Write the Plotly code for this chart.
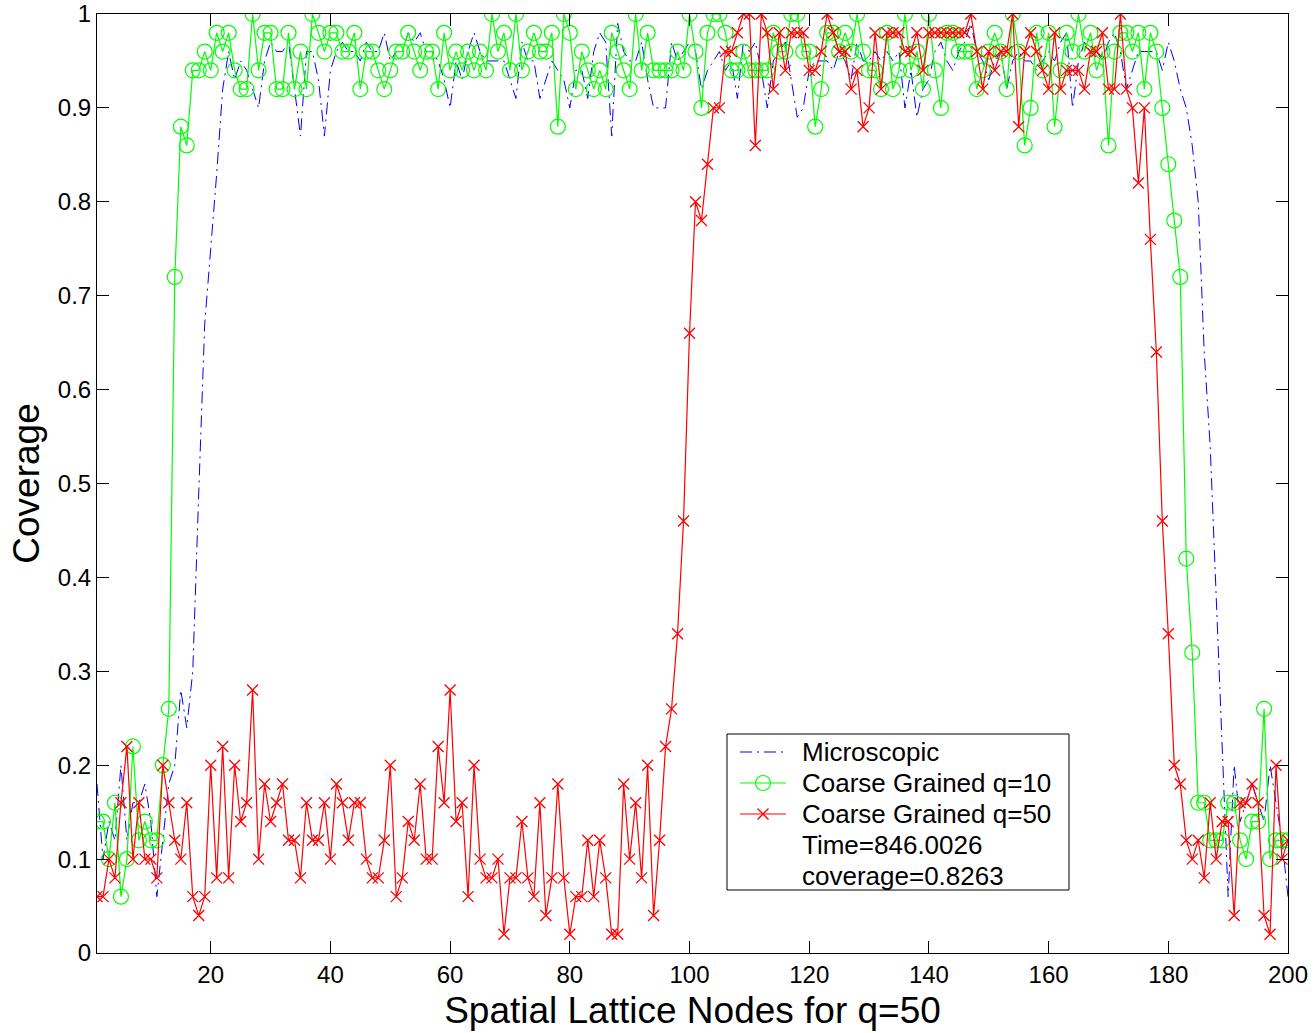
import plotly.graph_objects as go

nodes = list(range(1, 201))

micro = [
    0.18, 0.10, 0.14, 0.12, 0.20, 0.12, 0.16, 0.16, 0.18, 0.14,
    0.06, 0.12, 0.18, 0.20, 0.28, 0.24, 0.30, 0.49, 0.67, 0.75,
    0.83, 0.92, 0.96, 0.93, 0.95, 0.94, 0.92, 0.90, 0.95, 0.97,
    0.96, 0.96, 0.97, 0.92, 0.87, 0.96, 0.96, 0.93, 0.87, 0.94,
    0.96, 0.97, 0.96, 0.96, 0.95, 0.97, 0.96, 0.96, 0.98, 0.95,
    0.96, 0.96, 0.98, 0.97, 0.98, 0.96, 0.96, 0.95, 0.93, 0.90,
    0.95, 0.93, 0.96, 0.98, 0.96, 0.95, 0.95, 0.95, 0.95, 0.93,
    0.91, 0.97, 0.95, 0.95, 0.91, 0.93, 0.95, 0.94, 0.93, 0.90,
    0.94, 0.94, 0.91, 0.96, 0.98, 0.97, 0.87, 0.99, 0.96, 0.95,
    0.95, 0.97, 0.93, 0.90, 0.90, 0.90, 0.97, 0.95, 0.96, 0.97,
    0.96, 0.92, 0.94, 0.95, 0.96, 0.94, 0.95, 0.91, 0.97, 0.96,
    0.97, 0.94, 0.90, 0.95, 0.96, 0.97, 0.93, 0.89, 0.90, 0.94,
    0.95, 0.95, 0.95, 0.94, 0.96, 0.95, 0.93, 0.97, 0.95, 0.95,
    0.96, 0.95, 0.96, 0.95, 0.96, 0.90, 0.94, 0.89, 0.92, 0.93,
    0.96, 0.97, 0.95, 0.94, 0.96, 0.97, 0.99, 0.96, 0.95, 0.93,
    0.95, 0.96, 0.92, 0.95, 0.96, 0.95, 0.95, 0.94, 0.95, 0.96,
    0.95, 0.97, 0.98, 0.90, 0.95, 0.97, 0.96, 0.96, 0.95, 0.97,
    0.98, 0.96, 0.92, 0.94, 0.96, 0.96, 0.96, 0.96, 0.94, 0.97,
    0.95, 0.92, 0.90, 0.86, 0.80, 0.64, 0.54, 0.38, 0.20, 0.06,
    0.20, 0.14, 0.16, 0.18, 0.16, 0.14, 0.20, 0.16, 0.12, 0.06,
]

cg10 = [
    0.14, 0.14, 0.10, 0.16, 0.06, 0.10, 0.22, 0.12, 0.14, 0.12,
    0.12, 0.20, 0.26, 0.72, 0.88, 0.86, 0.94, 0.94, 0.96, 0.94,
    0.98, 0.96, 0.98, 0.94, 0.92, 0.92, 1.00, 0.94, 0.98, 0.98,
    0.92, 0.92, 0.98, 0.92, 0.96, 0.92, 1.00, 0.98, 0.96, 0.98,
    0.98, 0.96, 0.96, 0.98, 0.92, 0.96, 0.96, 0.94, 0.92, 0.94,
    0.96, 0.96, 0.98, 0.96, 0.94, 0.96, 0.96, 0.92, 0.98, 0.94,
    0.96, 0.94, 0.96, 0.94, 0.96, 0.94, 1.00, 0.96, 0.98, 0.94,
    1.00, 0.94, 0.96, 0.98, 0.96, 0.96, 0.98, 0.88, 1.00, 0.98,
    0.92, 0.96, 0.94, 0.92, 0.94, 0.92, 0.98, 0.96, 0.94, 0.92,
    1.00, 0.94, 0.98, 0.94, 0.94, 0.94, 0.94, 0.96, 0.94, 1.00,
    0.96, 0.90, 0.98, 1.00, 1.00, 0.98, 0.94, 0.94, 0.96, 0.94,
    0.94, 0.94, 0.94, 0.98, 0.96, 0.96, 1.00, 1.00, 0.96, 0.96,
    0.88, 0.92, 0.98, 0.98, 0.96, 0.98, 0.96, 1.00, 0.96, 0.94,
    0.94, 0.92, 0.98, 0.92, 0.94, 1.00, 0.94, 0.96, 0.92, 1.00,
    0.94, 0.90, 0.98, 0.98, 0.96, 0.96, 0.96, 0.92, 0.94, 0.96,
    0.98, 0.96, 0.92, 1.00, 0.96, 0.86, 0.90, 0.98, 0.94, 0.98,
    0.88, 0.94, 0.98, 0.96, 1.00, 0.96, 0.98, 0.94, 0.96, 0.86,
    0.96, 0.98, 0.98, 0.96, 0.98, 0.92, 0.98, 0.96, 0.90, 0.84,
    0.78, 0.72, 0.42, 0.32, 0.16, 0.16, 0.12, 0.12, 0.12, 0.16,
    0.16, 0.12, 0.10, 0.14, 0.14, 0.26, 0.10, 0.12, 0.12, 0.12,
]

cg50 = [
    0.06, 0.06, 0.10, 0.08, 0.16, 0.22, 0.10, 0.16, 0.10, 0.10,
    0.08, 0.20, 0.16, 0.12, 0.10, 0.16, 0.06, 0.04, 0.06, 0.20,
    0.08, 0.22, 0.08, 0.20, 0.14, 0.16, 0.28, 0.10, 0.18, 0.14,
    0.16, 0.18, 0.12, 0.12, 0.08, 0.16, 0.12, 0.12, 0.16, 0.10,
    0.18, 0.16, 0.12, 0.16, 0.16, 0.10, 0.08, 0.08, 0.12, 0.20,
    0.06, 0.08, 0.14, 0.12, 0.18, 0.10, 0.10, 0.22, 0.16, 0.28,
    0.14, 0.16, 0.06, 0.20, 0.10, 0.08, 0.08, 0.10, 0.02, 0.08,
    0.08, 0.14, 0.08, 0.06, 0.16, 0.04, 0.08, 0.18, 0.08, 0.02,
    0.06, 0.06, 0.12, 0.06, 0.12, 0.08, 0.02, 0.02, 0.18, 0.10,
    0.16, 0.08, 0.20, 0.04, 0.12, 0.22, 0.26, 0.34, 0.46, 0.66,
    0.80, 0.78, 0.84, 0.90, 0.90, 0.96, 0.96, 0.98, 1.00, 1.00,
    0.86, 1.00, 0.98, 0.92, 0.98, 0.94, 0.98, 0.98, 0.98, 0.94,
    0.94, 0.96, 1.00, 0.98, 0.96, 0.96, 0.92, 0.94, 0.88, 0.90,
    0.98, 0.92, 0.98, 0.98, 0.98, 0.96, 0.96, 0.98, 0.94, 0.98,
    0.98, 0.98, 0.98, 0.98, 0.98, 0.98, 1.00, 0.96, 0.92, 0.96,
    0.94, 0.96, 0.96, 1.00, 0.88, 0.96, 0.98, 0.96, 0.94, 0.92,
    0.98, 0.92, 0.94, 0.94, 0.94, 0.92, 0.96, 0.96, 0.98, 0.92,
    0.92, 1.00, 0.92, 0.90, 0.82, 0.90, 0.76, 0.64, 0.46, 0.34,
    0.20, 0.18, 0.12, 0.10, 0.12, 0.08, 0.16, 0.10, 0.14, 0.14,
    0.04, 0.16, 0.16, 0.18, 0.16, 0.04, 0.02, 0.20, 0.10, 0.12,
]

series_names = ["Microscopic", "Coarse Grained q=10", "Coarse Grained q=50"]
legend_notes = ["Time=846.0026", "coverage=0.8263"]

x_ticks = [20, 40, 60, 80, 100, 120, 140, 160, 180, 200]
y_ticks = [0, 0.1, 0.2, 0.3, 0.4, 0.5, 0.6, 0.7, 0.8, 0.9, 1]
y_tick_labels = ["0", "0.1", "0.2", "0.3", "0.4", "0.5", "0.6", "0.7", "0.8", "0.9", "1"]

FONT = "Arial, Liberation Sans, Helvetica, sans-serif"
BLUE, GREEN, RED = "#0000ff", "#00ff00", "#ff0000"
DASHDOT = "12px,5px,2px,5px"

W, H = 1315, 1033
ML, MR, MT, MB = 97, 27, 14, 80
PW, PH = W - ML - MR, H - MT - MB

fig = go.Figure()
fig.add_trace(go.Scatter(
    x=nodes, y=micro, mode="lines", name=series_names[0], showlegend=False,
    line=dict(color=BLUE, width=1, dash=DASHDOT),
))
fig.add_trace(go.Scatter(
    x=nodes, y=cg10, mode="lines+markers", name=series_names[1], showlegend=False,
    line=dict(color=GREEN, width=1.2),
    marker=dict(symbol="circle-open", size=15, color=GREEN, line=dict(width=1.2, color=GREEN)),
))
fig.add_trace(go.Scatter(
    x=nodes, y=cg50, mode="lines+markers", name=series_names[2], showlegend=False,
    line=dict(color=RED, width=1.2),
    marker=dict(symbol="x-thin-open", size=11, color=RED, line=dict(width=1.3, color=RED)),
))

# ---- legend box (drawn in paper space, MATLAB-style compact legend) ----
def px(xp):
    return (xp - ML) / PW

def py(yp):
    return (H - MB - yp) / PH

box_l, box_r, box_t, box_b = 727, 1069, 734, 890
row_y = [752, 783, 814, 845, 876]
samp_l, samp_r, samp_c = 740, 786, 763
text_x = 800

shapes = [dict(type="rect", xref="paper", yref="paper",
               x0=px(box_l), x1=px(box_r), y0=py(box_b), y1=py(box_t),
               line=dict(color="black", width=1), fillcolor="white", layer="above")]
sample_styles = [dict(color=BLUE, width=1, dash=DASHDOT),
                 dict(color=GREEN, width=1.2),
                 dict(color=RED, width=1.2)]
for yy, st in zip(row_y[:3], sample_styles):
    shapes.append(dict(type="line", xref="paper", yref="paper",
                       x0=px(samp_l), x1=px(samp_r), y0=py(yy), y1=py(yy),
                       line=st, layer="above"))
# circle marker sample
r = 7.5
shapes.append(dict(type="circle", xref="paper", yref="paper",
                   x0=px(samp_c - r), x1=px(samp_c + r),
                   y0=py(row_y[1] + r), y1=py(row_y[1] - r),
                   line=dict(color=GREEN, width=1.2), fillcolor="rgba(0,0,0,0)", layer="above"))
# x marker sample
h = 5.5
for sgn in (1, -1):
    shapes.append(dict(type="line", xref="paper", yref="paper",
                       x0=px(samp_c - h), x1=px(samp_c + h),
                       y0=py(row_y[2] - sgn * h), y1=py(row_y[2] + sgn * h),
                       line=dict(color=RED, width=1.3), layer="above"))

annotations = []
for yy, label in zip(row_y, series_names + legend_notes):
    annotations.append(dict(xref="paper", yref="paper", x=px(text_x), y=py(yy),
                            text=label, showarrow=False, xanchor="left", yanchor="middle",
                            font=dict(family=FONT, size=26, color="black")))

axis_common = dict(
    showline=True, linecolor="black", linewidth=1, mirror="ticks",
    ticks="inside", ticklen=12, tickcolor="black", tickwidth=1,
    showgrid=False, zeroline=False, automargin=False,
    tickfont=dict(family=FONT, size=24, color="black"),
)

fig.update_layout(
    width=W, height=H,
    margin=dict(l=ML, r=MR, t=MT, b=MB),
    paper_bgcolor="white", plot_bgcolor="white",
    font=dict(family=FONT, color="black"),
    xaxis=dict(
        range=[1, 200], tickvals=x_ticks,
        title=dict(text="Spatial Lattice Nodes for q=50", font=dict(family=FONT, size=37), standoff=10),
        **axis_common,
    ),
    yaxis=dict(
        range=[0, 1], tickvals=y_ticks, ticktext=y_tick_labels,
        title=dict(text="Coverage", font=dict(family=FONT, size=37), standoff=6),
        **axis_common,
    ),
    shapes=shapes,
    annotations=annotations,
    showlegend=False,
)

fig.write_html("out.html")
